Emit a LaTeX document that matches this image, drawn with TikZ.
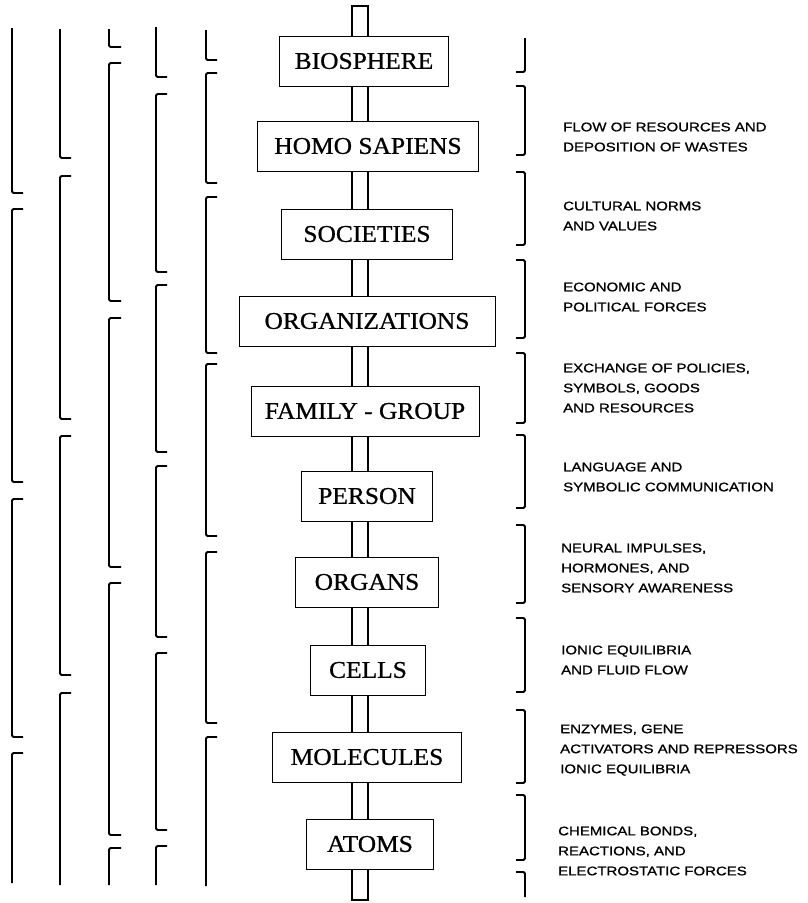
\documentclass[tikz,border=0pt]{standalone}
\usepackage{fontspec}
\newfontfamily\notefont[FakeStretch=1.2,FakeBold=1]{Liberation Sans}
\newfontfamily\levelfont[FakeStretch=1.06,FakeBold=0.8]{Liberation Serif}

\begin{document}
\begin{tikzpicture}[
    x=1pt, y=-1pt,
    level/.style={rectangle, draw=black, fill=white, line width=1pt,
                  minimum height=50pt, inner sep=0pt,
                  font=\levelfont\fontsize{24}{26}\selectfont},
    note/.style={anchor=west, align=left, inner sep=0pt,
                 font=\notefont\fontsize{12.5}{20}\selectfont},
    brack/.style={line width=1.8pt, rounded corners=1.5pt},
    pole/.style={line width=1.2pt, fill=white}
]
\useasboundingbox[fill=white] (0,0) rectangle (808,903);

% the pole through all levels
\coordinate (poletop) at (360,6);
\coordinate (polebot) at (360,900);
\draw[pole] ([xshift=-8pt]poletop) rectangle ([xshift=8pt]polebot);

% levels
\node[level, minimum width=169pt] (bio) at (364,61) {BIOSPHERE};
\node[level, minimum width=221pt] (homo) at (368,146) {HOMO SAPIENS};
\node[level, minimum width=171pt] (soc) at (367,234) {SOCIETIES};
\node[level, minimum width=256pt] (org) at (367,321) {ORGANIZATIONS};
\node[level, minimum width=228pt] (fam) at (365,411) {FAMILY - GROUP};
\node[level, minimum width=131pt] (pers) at (367,496) {PERSON};
\node[level, minimum width=143pt] (organs) at (367,582) {ORGANS};
\node[level, minimum width=115pt] (cells) at (368,670) {CELLS};
\node[level, minimum width=189pt] (mol) at (367,757) {MOLECULES};
\node[level, minimum width=127pt] (atoms) at (370,844) {ATOMS};

% exchanges between levels
\node[note] (flow) at (563,137) {FLOW OF RESOURCES AND\\DEPOSITION OF WASTES};
\node[note] (norms) at (563,216) {CULTURAL NORMS\\AND VALUES};
\node[note] (forces) at (563,297) {ECONOMIC AND\\POLITICAL FORCES};
\node[note] (exch) at (563,388) {EXCHANGE OF POLICIES,\\SYMBOLS, GOODS\\AND RESOURCES};
\node[note] (lang) at (563,477) {LANGUAGE AND\\SYMBOLIC COMMUNICATION};
\node[note] (neural) at (561,568) {NEURAL IMPULSES,\\HORMONES, AND\\SENSORY AWARENESS};
\node[note] (ionic) at (561,660) {IONIC EQUILIBRIA\\AND FLUID FLOW};
\node[note] (enzymes) at (560,750) {ENZYMES, GENE\\ACTIVATORS AND REPRESSORS\\IONIC EQUILIBRIA};
\node[note] (bonds) at (558,851) {CHEMICAL BONDS,\\REACTIONS, AND\\ELECTROSTATIC FORCES};

% right brackets
\draw[brack] (525,38) -- (525,72) -- (516,72);
\draw[brack] (516,86) -- (525,86) -- (525,155) -- (516,155);
\draw[brack] (516,172) -- (525,172) -- (525,245) -- (516,245);
\draw[brack] (516,260) -- (525,260) -- (525,338) -- (516,338);
\draw[brack] (516,353) -- (525,353) -- (525,423) -- (516,423);
\draw[brack] (516,435) -- (525,435) -- (525,508) -- (516,508);
\draw[brack] (516,525) -- (525,525) -- (525,603) -- (516,603);
\draw[brack] (516,618) -- (525,618) -- (525,692) -- (516,692);
\draw[brack] (516,710) -- (525,710) -- (525,783) -- (516,783);
\draw[brack] (516,795) -- (525,795) -- (525,860) -- (516,860);
\draw[brack] (516,872) -- (525,872) -- (525,897);

% left brackets, column 1
\draw[brack] (12,28) -- (12,193) -- (23,193);
\draw[brack] (23,209) -- (12,209) -- (12,482) -- (23,482);
\draw[brack] (23,499) -- (12,499) -- (12,737) -- (23,737);
\draw[brack] (23,753) -- (12,753) -- (12,883);

% column 2
\draw[brack] (60,29) -- (60,158) -- (71,158);
\draw[brack] (71,176) -- (60,176) -- (60,419) -- (71,419);
\draw[brack] (71,436) -- (60,436) -- (60,675) -- (71,675);
\draw[brack] (71,693) -- (60,693) -- (60,885);

% column 3
\draw[brack] (109,29) -- (109,47) -- (121,47);
\draw[brack] (121,63) -- (109,63) -- (109,301) -- (121,301);
\draw[brack] (121,318) -- (109,318) -- (109,567) -- (121,567);
\draw[brack] (121,583) -- (109,583) -- (109,835) -- (121,835);
\draw[brack] (121,848) -- (109,848) -- (109,885);

% column 4
\draw[brack] (156,27) -- (156,77) -- (167,77);
\draw[brack] (167,94) -- (156,94) -- (156,272) -- (167,272);
\draw[brack] (167,285) -- (156,285) -- (156,452) -- (167,452);
\draw[brack] (167,466) -- (156,466) -- (156,637) -- (167,637);
\draw[brack] (167,653) -- (156,653) -- (156,830) -- (167,830);
\draw[brack] (167,846) -- (156,846) -- (156,885);

% column 5
\draw[brack] (206,30) -- (206,60) -- (217,60);
\draw[brack] (217,73) -- (206,73) -- (206,183) -- (217,183);
\draw[brack] (217,197) -- (206,197) -- (206,353) -- (217,353);
\draw[brack] (217,364) -- (206,364) -- (206,536) -- (217,536);
\draw[brack] (217,552) -- (206,552) -- (206,723) -- (217,723);
\draw[brack] (217,737) -- (206,737) -- (206,886);
\end{tikzpicture}
\end{document}
